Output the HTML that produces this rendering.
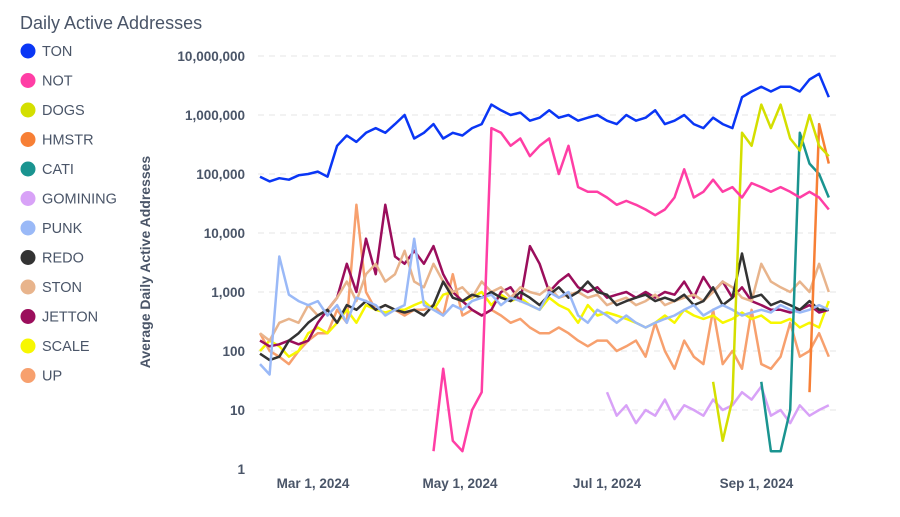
<!DOCTYPE html>
<html><head><meta charset="utf-8"><style>
body{margin:0;background:#fff;font-family:"Liberation Sans",sans-serif;}
svg{display:block}
</style></head><body>
<svg id="chart" width="900" height="517">
<text x="20" y="29" font-size="18" fill="#4a5568">Daily Active Addresses</text>
<g id="legend"></g>
<g id="grid"></g>
<g id="yaxis"></g>
<g id="xaxis"></g>
<text transform="translate(150,262) rotate(-90)" text-anchor="middle" font-size="14" font-weight="bold" fill="#4a5568">Average Daily Active Addresses</text>
<g id="series"></g>
</svg>
<script>
const seriesNames=["TON","NOT","DOGS","HMSTR","CATI","GOMINING","PUNK","REDO","STON","JETTON","SCALE","UP"];
const seriesColors=["#0a36f5","#ff3ea5","#d4df00","#f77f35","#1a9490","#d8a2f7","#9ab9f7","#333333","#e8b48c","#9b0e5c","#f7f700","#f7a06e"];
const yTicks=[1,10,100,1000,10000,100000,1000000,10000000];
const yTickLabels=["1","10","100","1,000","10,000","100,000","1,000,000","10,000,000"];
const xTickDays=[22,83,144,206];
const xTickLabels=["Mar 1, 2024","May 1, 2024","Jul 1, 2024","Sep 1, 2024"];
const stepDays=4;
const N=null;
const TON=[90e3,75e3,85e3,80e3,95e3,100e3,110e3,90e3,300e3,450e3,350e3,500e3,600e3,500e3,700e3,1e6,400e3,500e3,700e3,400e3,500e3,450e3,600e3,700e3,1.5e6,1.2e6,1e6,1.1e6,800e3,900e3,1.2e6,900e3,1e6,800e3,900e3,1e6,800e3,700e3,1e6,800e3,900e3,1.2e6,700e3,800e3,1e6,700e3,600e3,900e3,700e3,600e3,2e6,2.5e6,3e6,2.5e6,3e6,3e6,2.5e6,4e6,5e6,2e6];
const NOT=[N,N,N,N,N,N,N,N,N,N,N,N,N,N,N,N,N,N,2,50,3,2,10,20,600e3,500e3,300e3,400e3,200e3,300e3,400e3,100e3,300e3,60e3,50e3,50e3,40e3,30e3,35e3,30e3,25e3,20e3,25e3,40e3,120e3,40e3,50e3,80e3,50e3,60e3,40e3,70e3,60e3,50e3,60e3,50e3,40e3,50e3,40e3,25e3];
const DOGS=[N,N,N,N,N,N,N,N,N,N,N,N,N,N,N,N,N,N,N,N,N,N,N,N,N,N,N,N,N,N,N,N,N,N,N,N,N,N,N,N,N,N,N,N,N,N,N,30,3,15,500e3,300e3,1.5e6,600e3,1.5e6,400e3,250e3,1e6,300e3,200e3];
const HMSTR=[N,N,N,N,N,N,N,N,N,N,N,N,N,N,N,N,N,N,N,N,N,N,N,N,N,N,N,N,N,N,N,N,N,N,N,N,N,N,N,N,N,N,N,N,N,N,N,N,N,N,N,N,N,N,N,N,N,20,700e3,150e3];
const CATI=[N,N,N,N,N,N,N,N,N,N,N,N,N,N,N,N,N,N,N,N,N,N,N,N,N,N,N,N,N,N,N,N,N,N,N,N,N,N,N,N,N,N,N,N,N,N,N,N,N,N,N,N,30,2,2,10,500e3,150e3,100e3,40e3];
const GOMINING=[N,N,N,N,N,N,N,N,N,N,N,N,N,N,N,N,N,N,N,N,N,N,N,N,N,N,N,N,N,N,N,N,N,N,N,N,20,8,12,6,10,8,15,7,12,10,8,15,10,12,20,15,25,8,10,6,12,8,10,12];
const PUNK=[60,40,4000,900,700,600,700,400,600,300,800,700,600,400,500,600,8000,600,500,400,600,500,700,800,900,600,800,700,600,500,1000,800,1000,400,300,500,400,300,400,300,250,300,350,400,500,600,400,500,600,500,400,450,500,450,600,500,450,500,600,500];
const REDO=[90,70,80,150,200,300,400,500,300,600,500,700,500,600,500,450,500,400,600,1500,800,700,900,800,1000,800,700,1000,800,600,900,1200,800,1000,1500,1000,900,600,700,800,900,700,800,700,900,600,700,1200,600,800,4500,800,900,600,700,600,500,700,500,500];
const STON=[200,150,300,350,300,600,400,500,800,1500,700,2000,3000,1500,2000,5000,1500,1200,3000,1500,1000,1200,800,1500,1000,1200,800,1200,1000,900,1200,800,900,1000,800,900,600,700,800,600,700,900,600,700,800,900,700,1000,1500,1200,800,700,3000,1500,1200,1000,1500,1000,3000,1000];
const JETTON=[150,120,130,150,130,150,300,500,800,3000,1000,8000,2000,30000,4000,3000,5000,3000,6000,2000,1000,700,500,400,500,1000,1200,700,6000,3000,1000,1500,2000,1200,1000,1200,800,900,1000,800,1000,800,1000,900,1500,800,1800,1000,1500,800,1200,700,600,500,500,450,500,600,450,500];
const SCALE=[100,150,120,80,100,200,250,200,300,500,300,600,500,450,500,500,600,700,500,900,1000,700,800,1000,600,900,700,800,600,500,800,600,500,300,600,400,450,400,350,300,250,300,400,300,500,400,350,400,300,350,450,350,400,300,300,350,250,300,250,700];
const UP=[200,100,80,60,100,150,200,200,500,300,30000,1000,500,600,500,400,500,500,600,400,2000,400,500,400,500,400,300,350,250,200,200,250,200,150,120,150,150,100,120,150,80,300,100,50,150,80,60,500,60,100,50,500,60,50,80,300,80,100,200,80];
const seriesData=[TON,NOT,DOGS,HMSTR,CATI,GOMINING,PUNK,REDO,STON,JETTON,SCALE,UP];

const NS="http://www.w3.org/2000/svg";
const X0=260,PXD=2.41,Y1=469,DEC=59;
function xScale(day){return X0+day*PXD;}
function yScale(v){return Y1-Math.log10(v)*DEC;}
function mk(tag,attrs,parent){const e=document.createElementNS(NS,tag);for(const k in attrs)e.setAttribute(k,attrs[k]);parent.appendChild(e);return e;}

const grid=document.getElementById('grid'),yaxis=document.getElementById('yaxis'),xaxis=document.getElementById('xaxis');
yTicks.forEach((t,i)=>{
  const y=yScale(t);
  if(i>0){const l=mk('line',{x1:258,x2:838,y1:y,y2:y,stroke:'#e4e4e4','stroke-dasharray':'6,5'},grid);
  
  }
  const tx=mk('text',{x:245,y:y+5,'text-anchor':'end','font-size':13.5,'font-weight':'bold',fill:'#4a5568'},yaxis);
  tx.textContent=yTickLabels[i];
  
  
});
xTickDays.forEach((d,i)=>{
  const tx=mk('text',{x:xScale(d),y:488,'text-anchor':'middle','font-size':13.5,'font-weight':'bold',fill:'#4a5568'},xaxis);
  tx.textContent=xTickLabels[i];
  
  
});
const sg=document.getElementById('series');
for(let s=seriesData.length-1;s>=0;s--){
  const arr=seriesData[s];let d='',pen=false;
  arr.forEach((v,i)=>{if(v==null){pen=false;return;}
    d+=(pen?'L':'M')+xScale(i*stepDays).toFixed(1)+','+yScale(v).toFixed(1);pen=true;});
  const p=mk('path',{d:d,fill:'none',stroke:seriesColors[s],'stroke-width':2.5,'stroke-linejoin':'round'},sg);
  
  
}
const lg=document.getElementById('legend');
seriesNames.forEach((n,i)=>{
  const y=51+i*29.5;
  const g=mk('g',{},lg);
  
  
  mk('circle',{cx:28,cy:y,r:7.5,fill:seriesColors[i]},g);
  const t=mk('text',{x:42,y:y+5,'font-size':14.5,fill:'#4a5568'},g);t.textContent=n;
});
</script>
</body></html>
